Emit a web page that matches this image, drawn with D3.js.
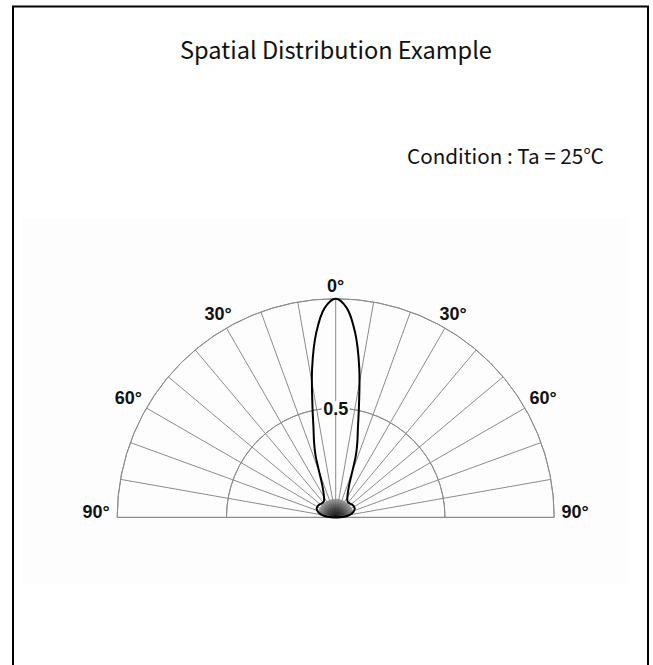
<!DOCTYPE html>
<html>
<head>
<meta charset="utf-8">
<script src="https://cdn.jsdelivr.net/npm/d3@7"></script>
<style>
  html, body { margin: 0; padding: 0; background: #fff; }
  svg { display: block; }
</style>
</head>
<body>
<svg id="chart" width="653" height="665"></svg>
<script>
// ---------- data ----------
const titleText = "Spatial Distribution Example";
const conditionText = "Condition : Ta = 25℃";

// angle (deg, 0 = forward, negative = left) and relative intensity
const lobeAngles = [-90,-85,-80,-75,-70,-65,-60,-55,-50,-45,-40,-35,-30,-25,-22,-20,-18,-16,-14,-12,-9,-6,-3,
                    0,3,6,9,12,14,16,18,20,22,25,30,35,40,45,50,55,60,65,70,75,80,85,90];
const lobeValues = [0.02,0.045,0.065,0.08,0.09,0.096,0.097,0.096,0.093,0.09,0.089,0.093,0.107,0.135,0.17,0.22,0.30,0.36,0.42,0.51,0.69,0.85,0.96,
                    1.00,0.96,0.85,0.69,0.51,0.42,0.36,0.30,0.22,0.17,0.135,0.107,0.093,0.089,0.09,0.093,0.096,0.097,0.096,0.09,0.08,0.065,0.045,0.02];

const spokeAngles = [-80,-70,-60,-50,-40,-30,-20,-10,0,10,20,30,40,50,60,70,80];
const ringValues = [0.5, 1.0];
const ringLabelValues = [0.5];
const ringLabels = ["0.5"];
const angleTickValues = [-90,-60,-30,0,30,60,90];
const angleTickLabels = ["90°","60°","30°","0°","30°","60°","90°"];

// ---------- layout ----------
const svg = d3.select("#chart");
const cx = 335.7, cy = 517.3, R = 218.5;
const rScale = d3.scaleLinear().domain([0, 1]).range([0, R]);
const aScale = d3.scaleLinear().domain([-90, 90]).range([-Math.PI / 2, Math.PI / 2]);
const px = (a, r) => cx + r * Math.sin(aScale(a));
const py = (a, r) => cy - r * Math.cos(aScale(a));

// frame
svg.append("rect").attr("x", 13).attr("y", 6.5).attr("width", 635).attr("height", 700)
  .attr("fill", "#fff").attr("stroke", "#000").attr("stroke-width", 2);
// faint picture background
svg.append("rect").attr("x", 22).attr("y", 218).attr("width", 606).attr("height", 366)
  .attr("fill", "#fdfdfd");

// title
const cjkFont = "'Noto Sans CJK KR', 'Noto Sans', sans-serif";
function fitText(sel, targetWidth) {
  const w = sel.node().getComputedTextLength();
  const fs = parseFloat(sel.attr("font-size"));
  sel.attr("font-size", fs * targetWidth / w);
}
const title = svg.append("text").attr("x", 336).attr("y", 59)
  .attr("text-anchor", "middle").attr("font-family", cjkFont).attr("font-size", 22)
  .attr("fill", "#111").text(titleText);
fitText(title, 312);

const cond = svg.append("text").attr("x", 407).attr("y", 163.5)
  .attr("text-anchor", "start").attr("font-family", cjkFont).attr("font-size", 17)
  .attr("fill", "#111").text(conditionText);
fitText(cond, 197);

const g = svg.append("g");
const gridColor = "#8c8c8c";

// rings
const arcGen = d3.arc().startAngle(aScale(-90)).endAngle(aScale(90));
g.selectAll("path.ring").data(ringValues).join("path")
  .attr("class", "ring")
  .attr("transform", `translate(${cx},${cy})`)
  .attr("d", d => arcGen({innerRadius: rScale(d), outerRadius: rScale(d)}))
  .attr("fill", "none").attr("stroke", gridColor).attr("stroke-width", 1);

// spokes
g.selectAll("line.spoke").data(spokeAngles).join("line")
  .attr("class", "spoke")
  .attr("x1", cx).attr("y1", cy)
  .attr("x2", d => px(d, rScale(1))).attr("y2", d => py(d, rScale(1)))
  .attr("stroke", gridColor).attr("stroke-width", 1);

// baseline
g.append("line")
  .attr("x1", px(-90, rScale(1))).attr("y1", cy)
  .attr("x2", px(90, rScale(1))).attr("y2", cy)
  .attr("stroke", gridColor).attr("stroke-width", 1.2);

// lobe
const lobeData = lobeAngles.map((a, i) => [aScale(a), rScale(lobeValues[i])]);
const lobeLine = d3.lineRadial().angle(d => d[0]).radius(d => d[1])
  .curve(d3.curveCatmullRomClosed.alpha(0.5));

const defs = svg.append("defs");
const grad = defs.append("radialGradient").attr("id", "blobGrad")
  .attr("gradientUnits", "userSpaceOnUse")
  .attr("cx", 0).attr("cy", 0).attr("r", rScale(0.1));
grad.append("stop").attr("offset", "0%").attr("stop-color", "#000");
grad.append("stop").attr("offset", "40%").attr("stop-color", "#333");
grad.append("stop").attr("offset", "100%").attr("stop-color", "#b0b0b0");
defs.append("clipPath").attr("id", "blobClip")
  .append("circle").attr("cx", 0).attr("cy", 0).attr("r", rScale(0.085));

const lobeG = g.append("g").attr("transform", `translate(${cx},${cy})`);
lobeG.append("path")
  .attr("d", lobeLine(lobeData))
  .attr("fill", "url(#blobGrad)").attr("fill-opacity", 0.85)
  .attr("clip-path", "url(#blobClip)");
lobeG.append("path")
  .attr("d", lobeLine(lobeData))
  .attr("fill", "none").attr("stroke", "#000").attr("stroke-width", 2);

// ring labels
const labelFont = "'Liberation Sans', Arial, sans-serif";
const rl = g.selectAll("g.rlabel").data(ringLabelValues).join("g").attr("class", "rlabel");
rl.append("rect")
  .attr("x", cx - 14).attr("y", d => cy - rScale(d) - 7)
  .attr("width", 28).attr("height", 14).attr("fill", "#fff");
rl.append("text")
  .attr("x", cx).attr("y", d => cy - rScale(d) + 6.5)
  .attr("text-anchor", "middle").attr("font-family", labelFont)
  .attr("font-weight", "bold").attr("font-size", 18).attr("fill", "#111")
  .text((d, i) => ringLabels[i]);

// angle labels
const labelOffset = d => ({0: 13, 30: 16.5, 60: 21, 90: 21})[Math.abs(d)];
g.selectAll("text.alabel").data(angleTickValues).join("text")
  .attr("class", "alabel")
  .attr("x", d => px(d, R + labelOffset(d)))
  .attr("y", d => Math.abs(d) === 90 ? cy + 1 : py(d, R + labelOffset(d)) + 6.5)
  .attr("text-anchor", "middle").attr("font-family", labelFont)
  .attr("font-weight", "bold").attr("font-size", 18).attr("fill", "#111")
  .text((d, i) => angleTickLabels[i]);
</script>
</body>
</html>
